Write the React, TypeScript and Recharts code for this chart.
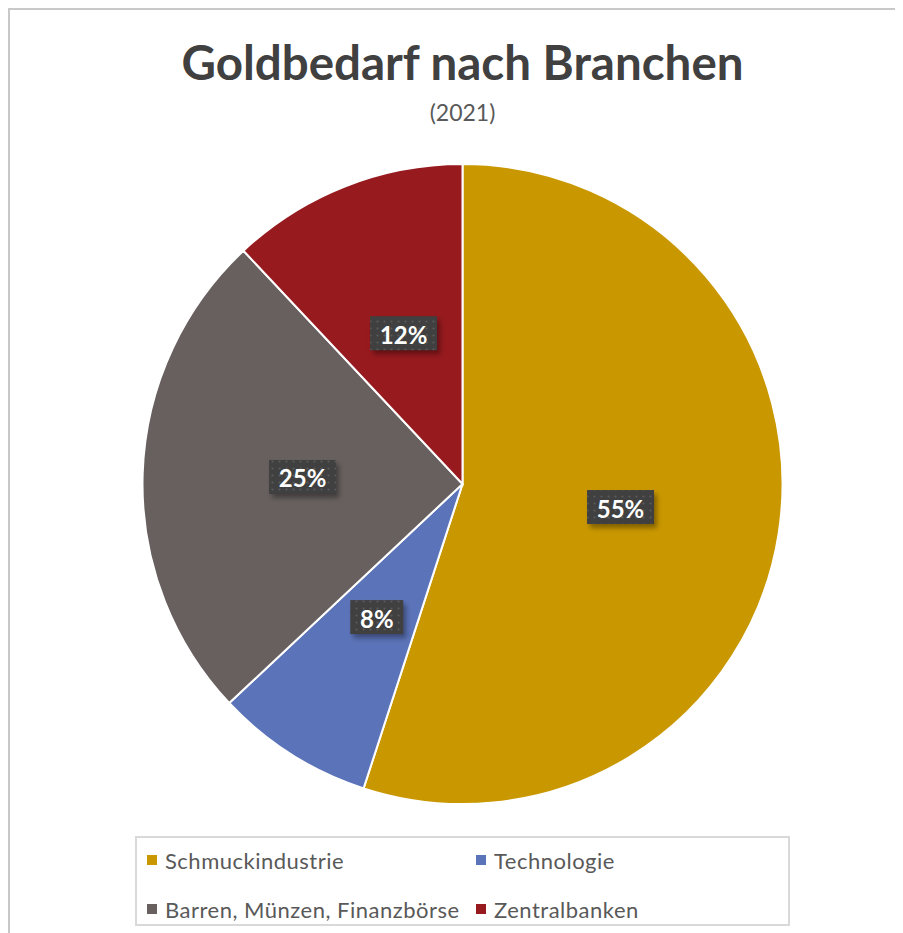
import React from "react";
import { PieChart, Pie, Cell, Legend } from "recharts";

const categories = ["Schmuckindustrie", "Technologie", "Barren, Münzen, Finanzbörse", "Zentralbanken"];
const shares = [55, 8, 25, 12];
const colors = ["#C99700", "#5B73B8", "#67605F", "#961A1E"];
const title = "Goldbedarf nach Branchen";
const subtitle = "(2021)";

const data = categories.map((name, i) => ({ name, value: shares[i] }));

const RAD = Math.PI / 180;
const FONT = "Lato, 'Open Sans', sans-serif";

const renderLabel = (props: any) => {
  const { cx, cy, midAngle, outerRadius, value } = props;
  const r = outerRadius * 0.5;
  const x = cx + r * Math.cos(-midAngle * RAD);
  const y = cy + r * Math.sin(-midAngle * RAD) - 2;
  const text = `${value}%`;
  const w = text.length * 14 + 25;
  const h = 34;
  return (
    <g>
      <rect x={x - w / 2 + 3} y={y - h / 2 + 4} width={w} height={h} fill="rgba(0,0,0,0.35)" filter="url(#lblBlur)" />
      <rect x={x - w / 2} y={y - h / 2} width={w} height={h} fill="#404040" />
      <rect x={x - w / 2} y={y - h / 2} width={w} height={h} fill="url(#dots)" />
      <text x={x} y={y + 1} textAnchor="middle" dominantBaseline="central" fill="#FFFFFF" fontFamily={FONT} fontWeight={700} fontSize={24}>
        {text}
      </text>
    </g>
  );
};

const renderLegend = () => {
  const cols = [10, 339];
  return (
    <div
      style={{
        width: 655,
        height: 90,
        border: "2px solid #D9D9D9",
        boxSizing: "border-box",
        position: "relative",
        fontFamily: FONT,
        fontSize: 22,
        letterSpacing: 0.5,
        color: "#595959",
        background: "#fff",
      }}
    >
      {categories.map((c, i) => {
        const left = cols[i % 2];
        const row = Math.floor(i / 2);
        return (
          <div
            key={c}
            style={{
              position: "absolute",
              left,
              top: 8 + row * 49,
              height: 28,
              display: "flex",
              alignItems: "center",
              whiteSpace: "nowrap",
            }}
          >
            <span style={{ display: "inline-block", width: 10, height: 10, background: colors[i], marginRight: 8 }} />
            <span>{c}</span>
          </div>
        );
      })}
    </div>
  );
};

export default function App() {
  return (
    <div
      style={{
        position: "relative",
        width: 893,
        height: 923,
        borderTop: "2px solid #C8C8C8",
        borderLeft: "2px solid #C8C8C8",
        overflow: "hidden",
        background: "#fff",
      }}
    >
      <style>{"html, body { overflow: hidden; }"}</style>
      <div
        style={{
          position: "absolute",
          left: 0,
          width: 905,
          top: 24,
          textAlign: "center",
          fontFamily: FONT,
          fontWeight: 700,
          fontSize: 47.5,
          color: "#404040",
          lineHeight: "56px",
        }}
      >
        {title}
      </div>
      <div
        style={{
          position: "absolute",
          left: 0,
          width: 905,
          top: 88,
          textAlign: "center",
          fontFamily: FONT,
          fontSize: 23,
          color: "#595959",
          lineHeight: "28px",
        }}
      >
        {subtitle}
      </div>
      <PieChart
        width={893}
        height={923}
        margin={{ top: 0, right: 0, bottom: 0, left: 0 }}
        style={{ position: "absolute", left: 0, top: 0 }}
      >
        <defs>
          <pattern id="dots" x="0" y="0" width="7" height="7" patternUnits="userSpaceOnUse">
            <circle cx="3.5" cy="3.5" r="1.1" fill="#5A5A5A" />
          </pattern>
          <filter id="lblBlur" x="-20%" y="-20%" width="140%" height="140%">
            <feGaussianBlur stdDeviation="2.5" />
          </filter>
        </defs>
        <Pie
          data={data}
          dataKey="value"
          nameKey="name"
          cx={452.5}
          cy={474}
          outerRadius={320}
          startAngle={90}
          endAngle={-270}
          stroke="#FFFFFF"
          strokeWidth={2}
          label={renderLabel}
          labelLine={false}
          isAnimationActive={false}
        >
          {data.map((d, i) => (
            <Cell key={d.name} fill={colors[i]} />
          ))}
        </Pie>
        <Legend
          content={renderLegend}
          wrapperStyle={{ position: "absolute", left: 125, top: 826, width: 655, height: 90 }}
        />
      </PieChart>
    </div>
  );
}
